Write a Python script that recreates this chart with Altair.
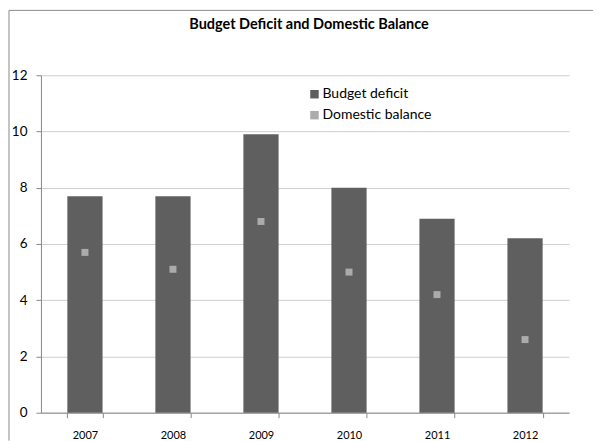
import altair as alt
import pandas as pd

years = ["2007", "2008", "2009", "2010", "2011", "2012"]
budget_deficit = [7.7, 7.7, 9.9, 8.0, 6.9, 6.2]
domestic_balance = [5.7, 5.1, 6.8, 5.0, 4.2, 2.6]
series = ["Budget deficit", "Domestic balance"]
series_colors = ["#5f5f5f", "#ababab"]
y_ticks = [0, 2, 4, 6, 8, 10, 12]
chart_title = "Budget Deficit and Domestic Balance"

df_bar = pd.DataFrame({"year": years, "value": budget_deficit, "series": series[0]})
df_pt = pd.DataFrame({"year": years, "value": domestic_balance, "series": series[1]})
one = pd.DataFrame({"k": [0]})

FONT = "Lato"
W, H = 529, 338

x_enc = alt.X("year:N", title=None,
              scale=alt.Scale(paddingInner=0.6, paddingOuter=0.3))
y_enc = alt.Y("value:Q", title=None, scale=alt.Scale(domain=[0, 12]),
              axis=alt.Axis(values=y_ticks))
color_enc = alt.Color(
    "series:N",
    scale=alt.Scale(domain=series, range=series_colors),
    legend=alt.Legend(title=None, orient="none", legendX=267, legendY=12,
                      symbolType="square", symbolSize=72, symbolStrokeWidth=0,
                      labelFont=FONT, labelFontSize=14, labelColor="black",
                      labelOffset=1, rowPadding=7, padding=0),
)

border_top = alt.Chart(one).mark_rule(color="#8a8a8a", strokeWidth=1).encode(
    x=alt.value(-32), x2=alt.value(553), y=alt.value(-65))
border_left = alt.Chart(one).mark_rule(color="#8a8a8a", strokeWidth=1).encode(
    x=alt.value(-32), y=alt.value(-65), y2=alt.value(366))

bars = alt.Chart(df_bar).mark_bar().encode(x=x_enc, y=y_enc, color=color_enc)
points = alt.Chart(df_pt).mark_square(size=49, opacity=1).encode(x=x_enc, y=y_enc, color=color_enc)

chart = alt.layer(border_top, border_left, bars, points).properties(
    width=W, height=H,
    padding={"left": 0, "top": 1, "right": 0, "bottom": 0},
    title=alt.TitleParams(chart_title, font=FONT, fontSize=14.5, fontWeight="bold",
                          color="black", anchor="middle", frame="group", offset=-23, dx=4),
).configure_view(stroke=None).configure_axisX(
    labelAngle=0, labelFont=FONT, labelFontSize=11, labelColor="black",
    domainColor="#888888", tickColor="#888888", tickSize=5, tickBand="extent",
    labelPadding=12, grid=False,
).configure_axisY(
    labelFont=FONT, labelFontSize=13.5, labelColor="black",
    domainColor="#888888", tickColor="#888888", tickSize=5, labelPadding=9,
    gridColor="#cfcfcf", grid=True,
)

chart.save("out.html", embed_options={"renderer": "svg", "actions": False})
